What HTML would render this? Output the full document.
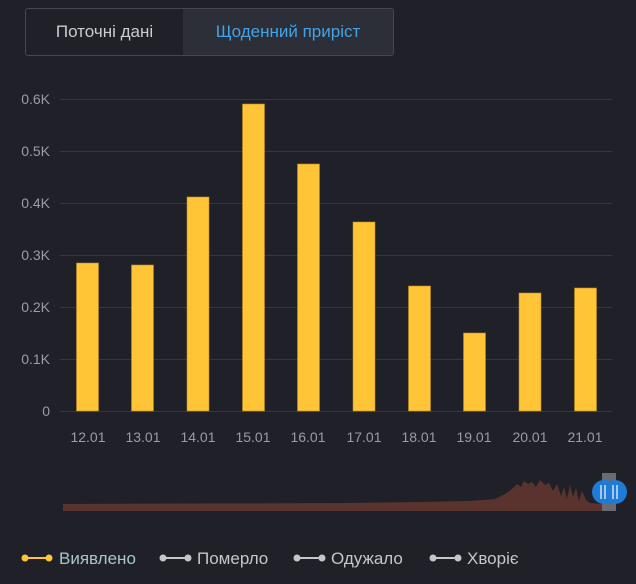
<!DOCTYPE html>
<html><head><meta charset="utf-8"><style>
html,body{margin:0;padding:0;background:#202128;}
body{width:636px;height:584px;overflow:hidden;position:relative;font-family:"Liberation Sans",sans-serif;}
.tabs{position:absolute;left:25px;top:8px;width:367px;height:46px;border:1px solid #45474e;border-radius:3px;overflow:hidden;display:flex;}
.tabs div{height:46px;line-height:46px;text-align:center;font-size:17px;}
.t1{width:157px;color:#c9cbd0;background:#202128;}
.t2{flex:1;color:#43a3e6;background:#2c2f37;}
</style></head><body>
<div class="tabs"><div class="t1">Поточні дані</div><div class="t2">Щоденний приріст</div></div>
<svg width="636" height="584" style="position:absolute;left:0;top:0" font-family="Liberation Sans, sans-serif">
<g stroke="#35373d" stroke-width="1">
<line x1="60" x2="612" y1="99.5" y2="99.5"/><line x1="60" x2="612" y1="151.5" y2="151.5"/>
<line x1="60" x2="612" y1="203.5" y2="203.5"/><line x1="60" x2="612" y1="255.5" y2="255.5"/>
<line x1="60" x2="612" y1="307.5" y2="307.5"/><line x1="60" x2="612" y1="359.5" y2="359.5"/>
<line x1="60" x2="612" y1="411.5" y2="411.5"/>
</g>
<g fill="#9a9ca4" font-size="14" text-anchor="end">
<text x="50" y="104">0.6K</text><text x="50" y="156">0.5K</text><text x="50" y="208">0.4K</text>
<text x="50" y="260">0.3K</text><text x="50" y="312">0.2K</text><text x="50" y="364">0.1K</text>
<text x="50" y="416">0</text>
</g>
<g fill="#ffc537" stroke="#b88a20" stroke-width="0.6">
<rect x="76.5" y="263" width="22" height="148"/>
<rect x="131.5" y="265" width="22" height="146"/>
<rect x="187" y="197" width="22" height="214"/>
<rect x="242.5" y="104" width="22" height="307"/>
<rect x="297.5" y="164" width="22" height="247"/>
<rect x="353" y="222" width="22" height="189"/>
<rect x="408.5" y="286" width="22" height="125"/>
<rect x="463.5" y="333" width="22" height="78"/>
<rect x="519" y="293" width="22" height="118"/>
<rect x="574.5" y="288" width="22" height="123"/>
</g>
<g fill="#9a9ca4" font-size="14" text-anchor="middle">
<text x="88" y="442">12.01</text><text x="143" y="442">13.01</text><text x="198" y="442">14.01</text>
<text x="253" y="442">15.01</text><text x="308" y="442">16.01</text><text x="364" y="442">17.01</text>
<text x="419" y="442">18.01</text><text x="474" y="442">19.01</text><text x="530" y="442">20.01</text>
<text x="585" y="442">21.01</text>
</g>
<path d="M63,511 L63,504 L200,503.5 L350,503 L420,502 L470,501 L495,499 L505,494 L512,489 L517,484 L521,487 L524,481 L528,484 L532,482 L536,487 L540,480 L545,485 L549,483 L553,491 L557,484 L561,496 L564,487 L567,499 L570,485 L573,497 L576,488 L579,501 L582,491 L586,500 L590,503 L602,504 L602,511 Z" fill="#5a332f"/>
<rect x="602" y="473" width="14" height="38" fill="#6b6a70"/>
<circle cx="604" cy="492" r="12" fill="#1e7bd6"/><circle cx="615" cy="492" r="12" fill="#1e7bd6"/>
<g stroke="#cfe3f7" stroke-width="1.5"><line x1="601" y1="485" x2="601" y2="499"/><line x1="605" y1="485" x2="605" y2="499"/><line x1="613" y1="485" x2="613" y2="499"/><line x1="617" y1="485" x2="617" y2="499"/></g>
<g stroke-width="2"><line x1="25" x2="49" y1="558" y2="558" stroke="#ffc537"/></g>
<circle cx="25" cy="558" r="3.5" fill="#ffc537"/><circle cx="49" cy="558" r="3.5" fill="#ffc537"/>
<g stroke="#c6c6c8" stroke-width="2"><line x1="163" x2="188" y1="558" y2="558"/><line x1="297" x2="322" y1="558" y2="558"/><line x1="433" x2="458" y1="558" y2="558"/></g>
<g fill="#c6c6c8"><circle cx="163" cy="558" r="3.5"/><circle cx="188" cy="558" r="3.5"/><circle cx="297" cy="558" r="3.5"/><circle cx="322" cy="558" r="3.5"/><circle cx="433" cy="558" r="3.5"/><circle cx="458" cy="558" r="3.5"/></g>
<g font-size="17"><text x="59" y="564" fill="#a9c6c6">Виявлено</text><text x="197" y="564" fill="#c6c6c8">Померло</text><text x="331" y="564" fill="#c6c6c8">Одужало</text><text x="467" y="564" fill="#c6c6c8">Хворіє</text></g>
</svg>
</body></html>
